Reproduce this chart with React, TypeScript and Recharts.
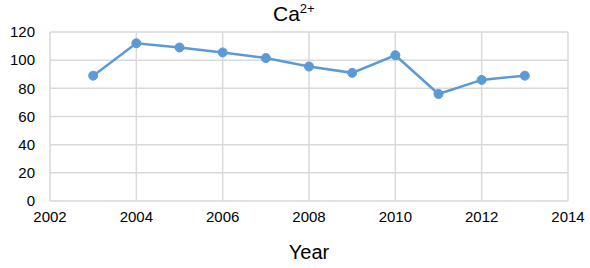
import { LineChart, Line, XAxis, YAxis, CartesianGrid, Label } from 'recharts';

const years = [2003, 2004, 2005, 2006, 2007, 2008, 2009, 2010, 2011, 2012, 2013];
const calcium = [89, 112, 109, 105.5, 101.5, 95.5, 91, 103.5, 76, 86, 89];
const xTicks = [2002, 2004, 2006, 2008, 2010, 2012, 2014];
const yTicks = [0, 20, 40, 60, 80, 100, 120];

const data = years.map((year, i) => ({ year, value: calcium[i] }));

const font = '"Liberation Sans", Arial, sans-serif';

export default function App() {
  return (
    <div
      style={{
        position: 'absolute',
        top: 0,
        left: 0,
        width: 590,
        height: 268,
        background: '#fff',
        fontFamily: font,
      }}
    >
      <div
        style={{
          position: 'absolute',
          top: 0,
          left: 273,
          fontSize: 21,
          lineHeight: '28px',
          color: '#000',
          whiteSpace: 'nowrap',
        }}
      >
        Ca<sup style={{ fontSize: 13, verticalAlign: 'super', lineHeight: 0 }}>2+</sup>
      </div>
      <LineChart
        width={590}
        height={268}
        data={data}
        margin={{ top: 32, right: 22, bottom: 0, left: 0 }}
      >
        <CartesianGrid stroke="#d9d9d9" strokeWidth={1.5} />
        <XAxis
          dataKey="year"
          type="number"
          domain={[2002, 2014]}
          ticks={xTicks}
          height={67}
          axisLine={false}
          tickLine={false}
          tickSize={0}
          tickMargin={10}
          tick={{ fill: '#000', fontSize: 15, fontFamily: font }}
        >
          <Label
            value="Year"
            position="insideBottom"
            offset={9}
            style={{ fill: '#000', fontSize: 20, fontFamily: font }}
          />
        </XAxis>
        <YAxis
          domain={[0, 120]}
          ticks={yTicks}
          width={50}
          axisLine={false}
          tickLine={false}
          tickSize={0}
          tickMargin={15}
          tick={{ fill: '#000', fontSize: 15, fontFamily: font }}
        />
        <Line
          type="linear"
          dataKey="value"
          stroke="#5b9bd5"
          strokeWidth={2.5}
          dot={{ r: 4.5, fill: '#5b9bd5', stroke: '#5b9bd5', strokeWidth: 1 }}
          isAnimationActive={false}
        />
      </LineChart>
    </div>
  );
}
